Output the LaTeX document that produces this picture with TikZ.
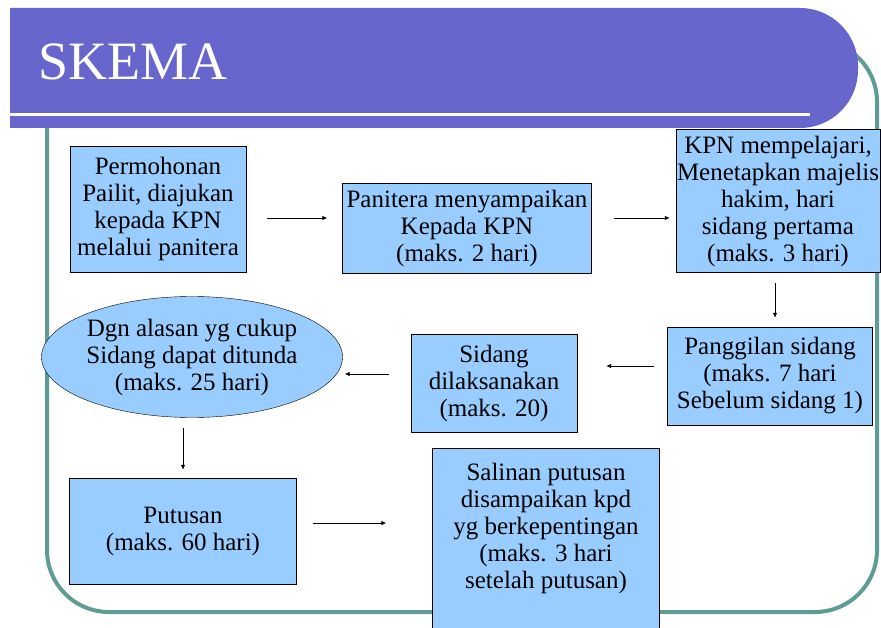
\documentclass[tikz,border=0pt]{standalone}
\usepackage{fontspec}
\setmainfont{Liberation Serif}
\usetikzlibrary{arrows.meta,shapes.geometric}
\definecolor{barpurple}{HTML}{6666CC}
\definecolor{frameteal}{HTML}{5F9C94}
\definecolor{boxblue}{HTML}{99CCFF}
\tikzset{
  box/.style={draw=black, fill=boxblue, align=center, inner sep=0pt, font=\fontsize{25}{27}\selectfont},
  arr/.style={-{Latex[length=5pt,width=4.5pt]}, line width=0.8pt}
}
\begin{document}
\begin{tikzpicture}[x=1pt,y=-1pt]
        \useasboundingbox (0,0) rectangle (881,628);
        \clip (0,0) rectangle (881,628);
        \fill[white] (0,0) rectangle (881,628);
        \draw[frameteal, line width=4pt, rounded corners=62pt] (47,40) rectangle (877,612);
        \fill[barpurple] (10,8) [rounded corners=58pt] -- (858,8) -- (858,128) [sharp corners] -- (10,128) -- cycle;
        \draw[white, line width=3pt] (10,115) -- (810,115);
        \draw (35,62) node[anchor=west, white, font=\fontsize{54}{60}\selectfont](title){SKEMA};

        \draw (158,209) node[box, minimum width=176pt, minimum height=126pt](b1){Permohonan\\Pailit, diajukan\\kepada KPN\\melalui panitera}
       (467,228) node[box, minimum width=249pt, minimum height=90pt](b2){Panitera menyampaikan\\Kepada KPN\\(maks. 2 hari)}
       (778,201) node[box, minimum width=204pt, minimum height=143pt](b3){KPN mempelajari,\\Menetapkan majelis\\hakim, hari\\sidang pertama\\(maks. 3 hari)}
       (770,376) node[box, minimum width=205pt, minimum height=98pt](b4){Panggilan sidang\\(maks. 7 hari\\Sebelum sidang 1)}
       (494,383) node[box, minimum width=166pt, minimum height=98pt](b5){Sidang\\dilaksanakan\\(maks. 20)}
       (192,357) node[box, ellipse, minimum width=301pt, minimum height=121pt](b6){Dgn alasan yg cukup\\Sidang dapat ditunda\\(maks. 25 hari)}
       (183,531) node[box, minimum width=227pt, minimum height=106pt](b7){Putusan\\(maks. 60 hari)}
       (546,448) node[box, anchor=north, minimum width=227pt, minimum height=182pt](b8){Salinan putusan\\disampaikan kpd\\yg berkepentingan\\(maks. 3 hari\\setelah putusan)\\\mbox{}};

       \coordinate (c1) at ([yshift=-9pt]b1.east);
       \coordinate (c3) at ([xshift=-3pt]b3.south);
       \coordinate (c4) at ([yshift=10pt]b4.west);
       \coordinate (c5) at ([yshift=9pt]b5.west);
       \coordinate (c6) at ([xshift=-9pt]b6.south);
       \coordinate (c7) at ([yshift=8pt]b7.east);
       \draw[arr, shorten <=21pt, shorten >=15pt] (c1) -- (c1 -| b2.west);
       \draw[arr, shorten <=22pt, shorten >=6pt] (c1 -| b2.east) -- (c1 -| b3.west);
       \draw[arr, shorten <=10pt, shorten >=9pt] (c3) -- (c3 |- b4.north);
       \draw[arr, shorten <=13pt, shorten >=29pt] (c4) -- (c4 -| b5.east);
       \draw[arr, shorten <=22pt, shorten >=2pt] (c5) -- (c5 -| b6.east);
       \draw[arr, shorten <=10pt, shorten >=8pt] (c6) -- (c6 |- b7.north);
       \draw[arr, shorten <=16pt, shorten >=46pt] (c7) -- (c7 -| b8.west);
    \end{tikzpicture}
\end{document}
